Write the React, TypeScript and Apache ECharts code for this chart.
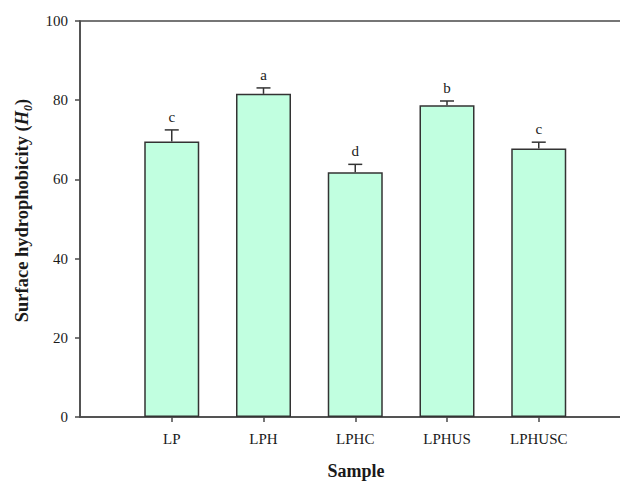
import React, { useEffect, useRef } from "react";
import * as echarts from "echarts";

const categories = ["LP", "LPH", "LPHC", "LPHUS", "LPHUSC"];
const values = [69.6, 81.6, 61.8, 78.7, 67.8];
const errors = [2.9, 1.5, 2.0, 1.1, 1.6];
const letters = ["c", "a", "d", "b", "c"];
const yTicks = { min: 0, max: 100, interval: 20 };

const FONT = "'Liberation Serif', 'Times New Roman', serif";
const AXIS = "#4a4a4a";
const TEXT = "#1a1a1a";

export default function App() {
  const ref = useRef<HTMLDivElement>(null);
  useEffect(() => {
    if (!ref.current) return;
    const chart = echarts.init(ref.current, null, { renderer: "svg" });
    const padded = ["", ...categories, ""];
    const barData: any[] = ["-", ...values, "-"];
    const errData = values.map((v, i) => [i + 1, v, errors[i]]);
    chart.setOption({
      animation: false,
      backgroundColor: "#ffffff",
      grid: {
        left: 80,
        top: 21,
        bottom: 65,
        right: -10.5,
        show: true,
        borderColor: AXIS,
        borderWidth: 1.5,
        outerBoundsMode: "none",
      },
      xAxis: {
        type: "category",
        data: padded,
        boundaryGap: false,
        axisLine: { lineStyle: { color: AXIS, width: 1.5 } },
        axisTick: {
          length: 5,
          lineStyle: { color: AXIS, width: 1.5 },
          interval: (_i: number, v: string) => v !== "",
        },
        axisLabel: {
          interval: 0,
          margin: 14,
          color: TEXT,
          fontFamily: FONT,
          fontSize: 15,
        },
        splitLine: { show: false },
      },
      yAxis: {
        type: "value",
        min: yTicks.min,
        max: yTicks.max,
        interval: yTicks.interval,
        axisLine: { show: true, lineStyle: { color: AXIS, width: 1.5 } },
        axisTick: { show: true, length: 5, lineStyle: { color: AXIS, width: 1.5 } },
        axisLabel: { margin: 12, color: TEXT, fontFamily: FONT, fontSize: 15 },
        splitLine: { show: false },
      },
      series: [
        {
          type: "bar",
          data: barData,
          barWidth: 55,
          itemStyle: { color: "#c1ffe0", borderColor: "#333333", borderWidth: 1.5 },
        },
        {
          type: "custom",
          data: errData,
          z: 5,
          renderItem: (params: any, api: any) => {
            const x = api.value(0);
            const v = api.value(1);
            const e = api.value(2);
            const base = api.coord([x, v]);
            const top = api.coord([x, v + e]);
            const cap = 7;
            return {
              type: "group",
              children: [
                {
                  type: "line",
                  shape: { x1: base[0], y1: base[1], x2: top[0], y2: top[1] },
                  style: { stroke: "#333333", lineWidth: 1.5 },
                },
                {
                  type: "line",
                  shape: { x1: top[0] - cap, y1: top[1], x2: top[0] + cap, y2: top[1] },
                  style: { stroke: "#333333", lineWidth: 1.5 },
                },
                {
                  type: "text",
                  x: top[0],
                  y: top[1] - 13,
                  style: {
                    text: letters[params.dataIndex],
                    fill: TEXT,
                    font: `15px ${FONT}`,
                    align: "center",
                    verticalAlign: "middle",
                  },
                },
              ],
            };
          },
        },
      ],
      graphic: [
        {
          type: "text",
          x: 21.5,
          y: 210.5,
          rotation: Math.PI / 2,
          style: {
            text: "{b|Surface hydrophobicity (}{i|H}{s|0}{b|)}",
            align: "center",
            verticalAlign: "middle",
            fill: TEXT,
            rich: {
              b: { fontFamily: FONT, fontSize: 18.5, fontWeight: "bold", lineHeight: 24, fill: TEXT },
              i: { fontFamily: FONT, fontSize: 18.5, fontWeight: "bold", fontStyle: "italic", lineHeight: 24, fill: TEXT },
              s: { fontFamily: FONT, fontSize: 12, fontWeight: "bold", fontStyle: "italic", lineHeight: 24, verticalAlign: "bottom", fill: TEXT },
            },
          },
        },
        {
          type: "text",
          x: 356,
          y: 471,
          style: {
            text: "Sample",
            font: `bold 18px ${FONT}`,
            fill: TEXT,
            align: "center",
            verticalAlign: "middle",
          },
        },
      ],
    });
    return () => chart.dispose();
  }, []);
  return <div ref={ref} style={{ width: 620, height: 482, position: "absolute", left: 0, top: 0 }} />;
}
